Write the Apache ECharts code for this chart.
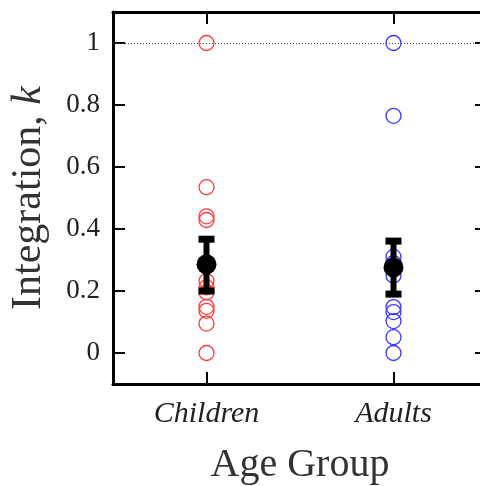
<!DOCTYPE html>
<html>
<head>
<meta charset="utf-8">
<script src="https://cdn.jsdelivr.net/npm/echarts@6/dist/echarts.min.js"></script>
<style>
  html, body { margin: 0; padding: 0; background: #fff; }
  #chart { width: 480px; height: 486px; }
</style>
</head>
<body>
<div id="chart"></div>
<script>
// values
const groups = ['Children', 'Adults']
const children = [1.0, 0.535, 0.441, 0.429, 0.232, 0.212, 0.196, 0.149, 0.136, 0.095, 0.0]
const adults = [1.0, 0.765, 0.31, 0.29, 0.25, 0.148, 0.132, 0.103, 0.051, 0.0]
const means = [0.286, 0.276]
const errLow = [0.2, 0.19]
const errHigh = [0.367, 0.361]
const yTicks = [0, 0.2, 0.4, 0.6, 0.8, 1]

const serif = 'Liberation Serif'
const chart = echarts.init(document.getElementById('chart'))

const openCircle = (color) => ({
  color: 'transparent',
  borderColor: color,
  borderWidth: 1.3,
  opacity: 1
})

const frameLine = { onZero: false, lineStyle: { color: '#000', width: 3 } }
const inTick = { show: true, inside: true, length: 12, lineStyle: { color: '#000', width: 2 } }

chart.setOption({
  animation: false,
  grid: { left: 113, right: -7, top: 12, bottom: 102, containLabel: false, outerBoundsMode: 'none' },
  xAxis: [{
    type: 'category',
    data: groups,
    boundaryGap: true,
    axisLine: frameLine,
    axisTick: Object.assign({ alignWithLabel: true }, inTick),
    axisLabel: { margin: 15, color: '#222', fontFamily: serif, fontStyle: 'italic', fontSize: 30 },
    name: 'Age Group',
    nameLocation: 'middle',
    nameGap: 61,
    nameTextStyle: { color: '#333', fontFamily: serif, fontSize: 40 }
  }, {
    type: 'category',
    data: groups,
    position: 'top',
    axisLine: frameLine,
    axisTick: Object.assign({ alignWithLabel: true }, inTick),
    axisLabel: { show: false }
  }],
  yAxis: [{
    type: 'value',
    min: -0.1,
    max: 1.1,
    splitLine: { show: false },
    axisLine: Object.assign({ show: true }, frameLine),
    axisTick: Object.assign({ customValues: yTicks }, inTick),
    axisLabel: { margin: 13, color: '#222', fontFamily: serif, fontSize: 27,
      customValues: yTicks, formatter: v => String(Math.round(v * 10) / 10) },
    name: '{a|Integration, }{k|k}',
    nameLocation: 'middle',
    nameGap: 63,
    nameTextStyle: {
      rich: {
        a: { color: '#333', fontFamily: serif, fontSize: 42 },
        k: { color: '#333', fontFamily: serif, fontSize: 42, fontStyle: 'italic' }
      }
    }
  }, {
    type: 'value',
    position: 'right',
    min: -0.1,
    max: 1.1,
    splitLine: { show: false },
    axisLine: Object.assign({ show: true }, frameLine),
    axisTick: Object.assign({ customValues: yTicks }, inTick),
    axisLabel: { show: false, customValues: yTicks }
  }],
  series: [{
    name: 'Children',
    type: 'scatter',
    symbol: 'circle',
    symbolSize: 15,
    itemStyle: openCircle('#ff3b3b'),
    data: children.map(v => [groups[0], v]),
    markLine: {
      silent: true,
      symbol: 'none',
      label: { show: false },
      lineStyle: { color: '#444', width: 1, type: [1, 2] },
      data: [{ yAxis: 1 }]
    },
    z: 2
  }, {
    name: 'Adults',
    type: 'scatter',
    symbol: 'circle',
    symbolSize: 15,
    itemStyle: openCircle('#3a3aff'),
    data: adults.map(v => [groups[1], v]),
    z: 2
  }, {
    name: 'error',
    type: 'custom',
    z: 5,
    renderItem: function (params, api) {
      const lo = api.coord([api.value(0), api.value(1)])
      const hi = api.coord([api.value(0), api.value(2)])
      const capW = 16, capH = 7
      return {
        type: 'group',
        children: [{
          type: 'line',
          shape: { x1: lo[0], y1: lo[1], x2: hi[0], y2: hi[1] },
          style: { stroke: '#000', lineWidth: 6 }
        }, {
          type: 'rect',
          shape: { x: hi[0] - capW / 2, y: hi[1] - capH / 2, width: capW, height: capH },
          style: { fill: '#000' }
        }, {
          type: 'rect',
          shape: { x: lo[0] - capW / 2, y: lo[1] - capH / 2, width: capW, height: capH },
          style: { fill: '#000' }
        }]
      }
    },
    data: groups.map((g, i) => [i, errLow[i], errHigh[i]])
  }, {
    name: 'mean',
    type: 'scatter',
    symbol: 'circle',
    symbolSize: 20,
    itemStyle: { color: '#000', opacity: 1 },
    data: groups.map((g, i) => [g, means[i]]),
    z: 6
  }]
})
</script>
</body>
</html>
